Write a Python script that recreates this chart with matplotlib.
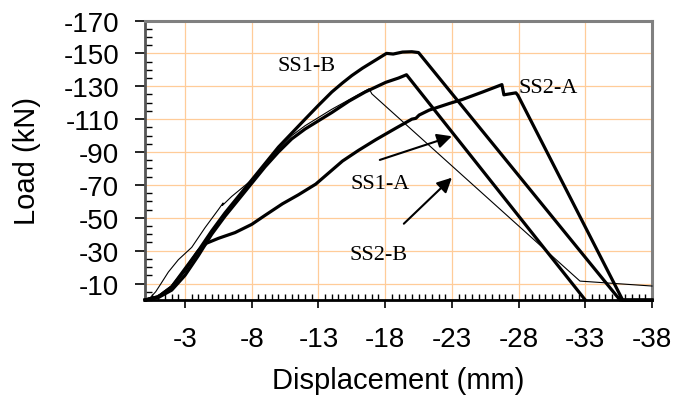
import numpy as np
import matplotlib
matplotlib.use('Agg')
import matplotlib.pyplot as plt
from matplotlib.ticker import MultipleLocator, FixedLocator

plt.rcParams['axes.unicode_minus'] = False

# load-displacement curves (mm, kN)
ss1b_x = [0, -1, -2, -3, -4, -5, -6, -7, -8, -9, -10, -11, -12, -13, -14, -14.8, -15.5,
          -16.3, -17, -17.6, -18.1, -18.6, -19.3, -20.0, -20.5, -35.6, -38]
ss1b_y = [0, -2, -8, -18, -30, -42, -53, -63, -73, -83, -93, -101.5, -110, -118.4, -126.5,
          -132, -136.5, -141, -144.5, -147.5, -150, -149.6, -150.8, -151, -150.5, 0, 0]

ss1a_x = [0, -1, -2, -3, -4, -5, -6, -7, -8, -9, -10, -11, -12, -13, -14, -15.3, -16.5,
          -18.05, -19, -19.6, -33.0]
ss1a_y = [0, -1.5, -6, -15, -27, -40, -51, -61, -71, -81, -90, -98, -104, -109, -114,
          -121, -126.5, -132.4, -135, -137, 0]

ss2a_x = [0, -1, -2, -3, -4, -4.6, -5.5, -6.75, -8, -9, -10.3, -11.5, -12.8, -13.8, -14.8,
          -16, -17.3, -18.8, -20, -20.3, -20.55, -21.3, -22.8, -23.8, -25.3, -26.75, -26.9,
          -27.8, -27.95, -35.8, -38]
ss2a_y = [0, -2, -8, -19, -30, -34.5, -37.5, -41, -46, -51.5, -58.5, -64, -70.5, -77.5,
          -84.5, -91, -97.5, -104.5, -110, -110.5, -112.5, -115.5, -119.5, -122, -126.5,
          -131, -124.8, -126, -124.5, 0, 0]

ss2b_x = [0, -0.4, -0.8, -1.2, -1.75, -2.5, -3.5, -4.5, -5.5, -5.85, -5.8, -6.5, -8, -9,
          -10, -11, -12, -13, -14, -15, -16, -16.8, -17.0, -32.6, -38]
ss2b_y = [0, -1.5, -5, -10, -17, -24.5, -32, -44, -55, -59, -57.5, -63, -73, -82.5,
          -91.5, -100, -106, -111, -116, -120.5, -125, -128.5, -125.4, -11.5, -8.5]

x_ticks = [-3, -8, -13, -18, -23, -28, -33, -38]
y_ticks = [-10, -30, -50, -70, -90, -110, -130, -150, -170]

fig = plt.figure(figsize=(6.74, 4.02), dpi=100)
ax = fig.add_axes([145 / 674, 1 - 301 / 402, 507 / 674, 279.5 / 402])

thick = dict(color='black', lw=2.3, solid_joinstyle='round', clip_on=False, zorder=3)
ax.plot(ss1b_x, ss1b_y, **thick)
ax.plot(ss1a_x, ss1a_y, **thick)
ax.plot(ss2a_x, ss2a_y, **thick)
ax.plot(ss2b_x, ss2b_y, color='black', lw=0.8, clip_on=False, zorder=3)

ax.set_xlim(0, -38)
ax.set_ylim(0, -170)

ax.xaxis.set_major_locator(FixedLocator(x_ticks))
ax.yaxis.set_major_locator(FixedLocator(y_ticks))
ax.xaxis.set_minor_locator(MultipleLocator(0.5))
ax.yaxis.set_minor_locator(MultipleLocator(5))
ax.grid(True, which='major', color='#FFCC99', lw=0.9, zorder=0)
ax.set_axisbelow(True)

ax.tick_params(which='major', axis='x', direction='out', length=6, width=1.2,
               labelsize=20, pad=13)
ax.tick_params(which='major', axis='y', direction='out', length=7.5, width=1.2,
               labelsize=20, pad=11)
ax.tick_params(which='minor', axis='x', direction='in', length=4, width=1)
ax.tick_params(which='minor', axis='y', direction='in', length=5, width=1)
for lab in ax.get_xticklabels() + ax.get_yticklabels():
    lab.set_family('Liberation Sans')

for side in ['top', 'right']:
    ax.spines[side].set_color('#808080')
    ax.spines[side].set_linewidth(2.2)
ax.spines['left'].set_color('#555555')
ax.spines['left'].set_linewidth(2)
ax.spines['bottom'].set_color('black')
ax.spines['bottom'].set_linewidth(2)

ax.set_xlabel('Displacement (mm)', fontsize=21, family='Liberation Sans')
ax.set_ylabel('Load (kN)', fontsize=21, family='Liberation Sans')
ax.xaxis.set_label_coords(0.5, -0.235)
ax.yaxis.set_label_coords(-0.205, 0.5)

lbl = dict(fontsize=16, family='Liberation Serif', ha='center', va='center', zorder=4)
ax.text(-12.1, -142.8, 'SS1-B', **lbl)
ax.text(-30.2, -129, 'SS2-A', **lbl)
ax.text(-17.6, -70.8, 'SS1-A', **lbl)
ax.text(-17.5, -27.6, 'SS2-B', **lbl)

arrow = dict(arrowstyle='-|>', mutation_scale=22, lw=1.5, color='black',
             shrinkA=0, shrinkB=0)
ax.annotate('', xy=(-23.0, -99.6), xytext=(-17.6, -85.2), arrowprops=arrow)
ax.annotate('', xy=(-23.0, -74.4), xytext=(-19.4, -46.4), arrowprops=arrow)

fig.savefig('out.png', dpi=100)
